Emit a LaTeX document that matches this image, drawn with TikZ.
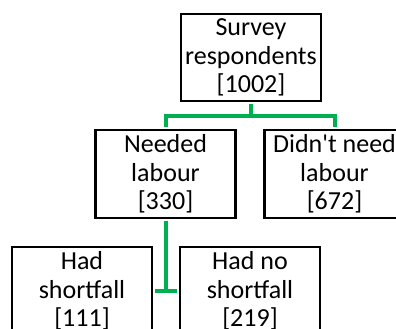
\documentclass[tikz,border=0pt]{standalone}
\usepackage{fontspec}
\setmainfont{Carlito}
\definecolor{linkgreen}{RGB}{0,176,80}
\begin{document}
\begin{tikzpicture}[x=1pt,y=-1pt,
  box/.style={draw=black, line width=2.6pt, minimum width=140pt, minimum height=88pt,
    inner sep=0pt, align=center, font=\fontsize{26}{28.5}\selectfont},
  link/.style={draw=linkgreen, line width=4pt, shorten >=1.3pt, shorten <=1.3pt}]
\useasboundingbox (0,0) rectangle (396,329);
\clip (0,0) rectangle (396,329);
\node[box, minimum height=87pt] (top) at (251,57.5) {Survey\\respondents\\{[1002]}};
\node[box] (needed) at (165.5,174) {Needed\\labour\\{[330]}};
\node[box] (didnt) at (334.5,174) {Didn\textquotesingle t need\\labour\\{[672]}};
\node[box] (had) at (82,291) {Had\\shortfall\\{[111]}};
\node[box] (hadno) at (250,291) {Had no\\shortfall\\{[219]}};
\draw[link] (top.south) -- ++(0,14) -| (needed.north);
\draw[link] (top.south) -- ++(0,14) -| (didnt.north);
\draw[link] (needed.south) |- (had.east);
\draw[link] (needed.south) |- (hadno.west);
\end{tikzpicture}
\end{document}
